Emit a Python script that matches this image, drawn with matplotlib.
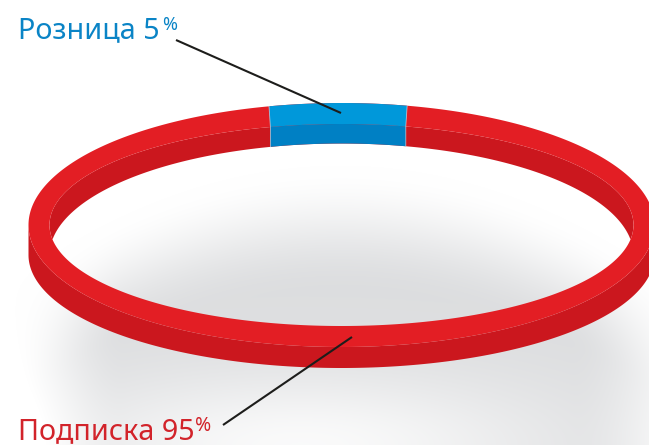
import numpy as np
import matplotlib
matplotlib.use("Agg")
import matplotlib.pyplot as plt
from matplotlib.patches import PathPatch, Polygon
from matplotlib.path import Path

# data
labels = ["Розница", "Подписка"]
shares = [5, 95]
label_colors = ["#0A84C6", "#D2232A"]

plt.rcParams['font.family'] = ['Noto Sans', 'DejaVu Sans']

W, H = 649, 445
fig = plt.figure(figsize=(W/100, H/100), dpi=100)
ax = fig.add_axes([0, 0, 1, 1])
ax.set_xlim(0, W); ax.set_ylim(H, 0); ax.axis('off')

# ring geometry (pixels)
cx, cy = 341.5, 225
oa, ob = 313, 122
ia, ib = 292, 101
side_cy, side_b = 255, 113
wall_cy, wall_b = 255.5, 112
deg_per_percent = 5.1   # the picture's perspective widens the slice
slice_offset = 3.5

RED, RED_D = "#E31E24", "#CB171E"
BLUE, BLUE_D = "#0098DA", "#0080C4"

def sstep(a, b, v):
    t = np.clip((v - a) / (b - a), 0, 1)
    return t*t*(3 - 2*t)

# soft floor shadow
yy, xx = np.mgrid[0:H, 0:W].astype(float)
start = 165 + 95*((xx - 340)/300.)**2
g = 0.135*sstep(start, start + 125, yy)*sstep(0, 125, xx)*sstep(720, 570, xx)
g -= 0.115*np.exp(-((xx - 300)/250.)**2 - ((yy - 445)/72.)**2)
g = np.clip(g, 0, 1)
rgb = np.clip(1 - g[..., None]*np.array([1.0, 0.97, 0.92]), 0, 1)
ax.imshow(rgb, extent=(0, W, H, 0), aspect='auto', zorder=0, interpolation='bilinear')

def ell(a, b, t, c=cy):
    return np.column_stack([cx + a*np.cos(t), c - b*np.sin(t)])

T = np.linspace(0, 2*np.pi, 721)
low = np.linspace(np.pi, 2*np.pi, 361)

# outer side wall
side = np.vstack([ell(oa, ob, low), ell(oa, side_b, low[::-1], side_cy)])
ax.add_patch(Polygon(side, closed=True, fc=RED_D, ec='none', zorder=2))

# inner wall (visible at the far side of the hole)
u = np.linspace(-1, 1, 1201)
xw = cx + ia*u
s = np.sqrt(1 - u**2)
y_top = cy - ib*s
y_bot = np.minimum(wall_cy - wall_b*s, cy + ib*s)
wall = np.vstack([np.column_stack([xw, y_top]), np.column_stack([xw, y_bot])[::-1]])
ax.add_patch(Polygon(wall, closed=True, fc=RED_D, ec='none', zorder=2))

# top surface
outer = ell(oa, ob, T)
inner = ell(ia, ib, T[::-1])
verts = np.vstack([outer, inner])
codes = np.r_[Path.MOVETO, [Path.LINETO]*(len(outer)-2), Path.CLOSEPOLY,
              Path.MOVETO, [Path.LINETO]*(len(inner)-2), Path.CLOSEPOLY]
ax.add_patch(PathPatch(Path(verts, codes), fc=RED, ec='none', zorder=3))

# blue slice, centred on the far side
half_o = np.deg2rad(shares[0]*deg_per_percent/2)
half_i = np.arcsin(np.sin(half_o)*0.98*oa/ia)
to = np.linspace(np.pi/2 - half_o, np.pi/2 + half_o, 80) + slice_offset/oa
ti = np.linspace(np.pi/2 - half_i, np.pi/2 + half_i, 80) + slice_offset/ia
top_face = np.vstack([ell(oa, ob, to), ell(ia, ib, ti[::-1])])
ax.add_patch(Polygon(top_face, closed=True, fc=BLUE, ec='none', zorder=4))
wall_face = np.vstack([ell(ia, ib, ti), ell(ia, wall_b, ti[::-1], wall_cy)])
ax.add_patch(Polygon(wall_face, closed=True, fc=BLUE_D, ec='none', zorder=4))
for a, b in ((to[0], ti[0]), (to[-1], ti[-1])):
    p = np.vstack([ell(oa, ob, np.array([a])), ell(ia, ib, np.array([b])),
                   ell(ia, wall_b, np.array([b]), wall_cy)])
    ax.plot(p[:, 0], p[:, 1], color='#cfe6f3', lw=0.6, alpha=0.7, zorder=5)

# leaders
ax.plot([176, 341], [40, 113], color='#1d1d1b', lw=1.5, zorder=6, solid_capstyle='butt')
ax.plot([223, 352], [425, 337], color='#1d1d1b', lw=1.5, zorder=6, solid_capstyle='butt')

# labels
ax.text(18, 38.5, f"{labels[0]} {shares[0]}", color=label_colors[0], fontsize=20.7, va='baseline', ha='left', zorder=7)
ax.text(162, 30.5, "%", color=label_colors[0], fontsize=13, va='baseline', ha='left', zorder=7)
ax.text(18, 439, f"{labels[1]} {shares[1]}", color=label_colors[1], fontsize=20.7, va='baseline', ha='left', zorder=7)
ax.text(195, 431, "%", color=label_colors[1], fontsize=14, va='baseline', ha='left', zorder=7)

fig.savefig("out.png", dpi=100)
